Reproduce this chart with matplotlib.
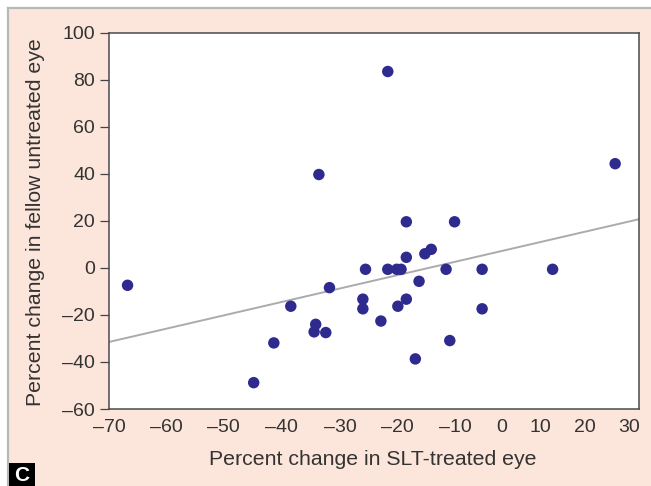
import matplotlib
matplotlib.use("Agg")
import matplotlib.pyplot as plt
from matplotlib.patches import Rectangle
from matplotlib.lines import Line2D

plt.rcParams['font.family'] = ['Liberation Sans', 'DejaVu Sans']

# ---- data ----
slt_change = [-66.5, -17.4, -30.4, 25.5, -13.9, -4.8, -10.4, -9.2, -13.9,
              -21.6, -17.4, -15.7, -14.9, -6.4, 0.4, 13.7, -11.5, -28.4,
              -22.1, -22.1, -13.9, -15.5, -35.7, 0.4, -18.7, -31.0, -31.3,
              -29.1, -38.9, -5.7, -12.2, -42.7]
fellow_change = [-7.4, 83.5, 39.7, 44.3, 19.6, 19.6, 6.0, 7.9, 4.5,
                 -0.6, -0.6, -0.6, -0.6, -0.6, -0.6, -0.6, -5.7, -8.4,
                 -13.3, -17.4, -13.3, -16.3, -16.3, -17.4, -22.6, -24.0, -27.2,
                 -27.5, -31.9, -30.9, -38.7, -48.8]
fit_x = [-70, 30]
fit_y = [-31.5, 20.7]

ytick_values = [-60, -40, -20, 0, 20, 40, 60, 80, 100]
xtick_labels = ['–70', '–60', '–50', '–40', '–30', '–20', '–10', '0', '10', '20', '30']
xtick_pos = [-70, -59.2, -48.4, -37.4, -26.4, -15.5, -4.6, 4.1, 11.4, 19.8, 28.2]

x_label = 'Percent change in SLT-treated eye'
y_label = 'Percent change in fellow untreated eye'
panel_letter = 'C'

# ---- figure ----
W, H = 651, 486
fig = plt.figure(figsize=(W / 100, H / 100), dpi=100, facecolor='white')

peach = '#fce5da'
fig.patches.append(Rectangle((9 / W, 0), 1 - 9 / W, 1 - 9 / H,
                             transform=fig.transFigure, facecolor=peach,
                             edgecolor='none', zorder=-10))
fig.lines.append(Line2D([8 / W, 1], [1 - 8.5 / H, 1 - 8.5 / H],
                        transform=fig.transFigure, color='#b8b8b8', lw=1.6,
                        zorder=-5))
fig.lines.append(Line2D([8 / W, 8 / W], [0, 1 - 8.5 / H],
                        transform=fig.transFigure, color='#b8b8b8', lw=1.6,
                        zorder=-5))

ax_l, ax_r, ax_t, ax_b = 109, 639, 32.7, 409
ax = fig.add_axes([ax_l / W, 1 - ax_b / H, (ax_r - ax_l) / W, (ax_b - ax_t) / H])
ax.set_facecolor('white')
ax.set_zorder(1)

ax.plot(fit_x, fit_y, color='#ababab', lw=1.4, zorder=2, solid_capstyle='butt')
ax.scatter(slt_change, fellow_change, s=68, color='#2e2a8e', edgecolors='none',
           zorder=3)

ax.set_xlim(-70, 30)
ax.set_ylim(-60, 100)

ax.set_yticks(ytick_values)
ax.set_yticklabels([str(v).replace('-', '–') for v in ytick_values])
ax.set_xticks(xtick_pos)
ax.set_xticklabels(xtick_labels)

ax.tick_params(axis='y', direction='out', length=6.5, width=0.9,
               color='#444444', labelsize=14, labelcolor='#333333', pad=3.4)
ax.tick_params(axis='x', length=0, labelsize=14, labelcolor='#333333', pad=7.0)

for sp in ax.spines.values():
    sp.set_color('#4a4a4a')
    sp.set_linewidth(1.1)

fig.text(373 / W, 1 - 459 / H, x_label, ha='center', va='center',
         fontsize=15.3, color='#333333')
fig.text(36 / W, 1 - 222 / H, y_label, ha='center', va='center',
         rotation=90, fontsize=15.3, color='#333333')

fig.patches.append(Rectangle((9 / W, 0), 26 / W, 23 / H,
                             transform=fig.transFigure, facecolor='black',
                             edgecolor='none', zorder=5))
fig.text(22 / W, 11 / H, panel_letter, ha='center', va='center',
         fontsize=15, fontweight='bold', color='white', zorder=6)

fig.savefig('out.png', dpi=100, facecolor='white')
